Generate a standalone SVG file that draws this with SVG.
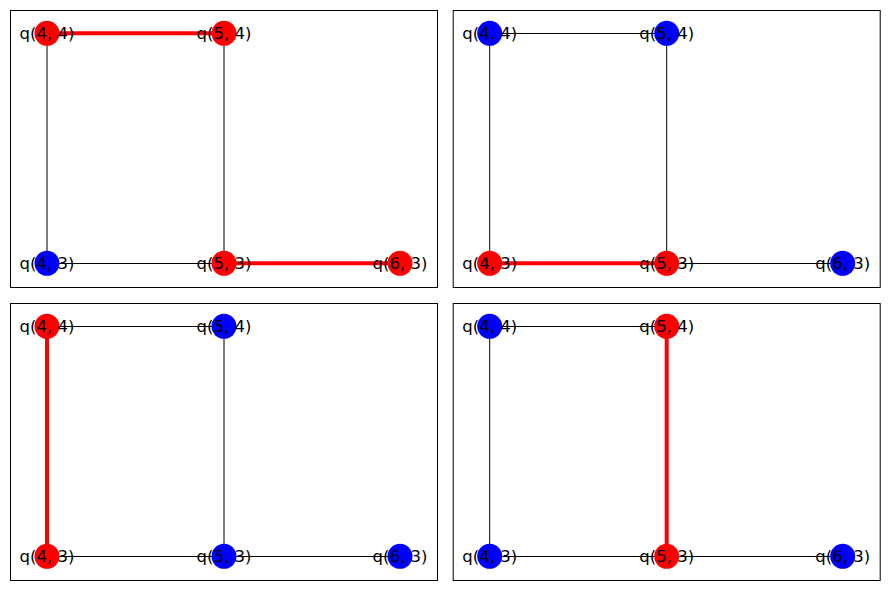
<svg xmlns="http://www.w3.org/2000/svg" width="889" height="590" viewBox="0 0 889 590">
<style>
.frame{fill:none;stroke:#000;stroke-width:1}
.e{stroke:#000;stroke-width:1}
.r{stroke:#ff0000;stroke-width:4}
.nr{fill:#ff0000}
.nb{fill:#0000ff}
text{font-family:"DejaVu Sans",sans-serif;font-size:16.5px;fill:#000;text-anchor:middle;dominant-baseline:central}
</style>
<rect width="889" height="590" fill="#fff"/>
<g id="panel1">
<rect class="frame" x="10.5" y="10.5" width="427" height="277"/>
<g id="p1-edges">
<line class="e" x1="47" y1="33.5" x2="47" y2="263.5"/>
<line class="e" x1="224" y1="33.5" x2="224" y2="263.5"/>
<line class="e" x1="47" y1="263.5" x2="224" y2="263.5"/>
<line class="r" x1="47" y1="33.3" x2="224" y2="33.3"/>
<line class="r" x1="224" y1="263.3" x2="400" y2="263.3"/>
</g>
<g id="p1-q44"><circle class="nr" cx="47" cy="33.3" r="12.5"/><text x="47" y="33.3">q(4, 4)</text></g>
<g id="p1-q54"><circle class="nr" cx="224" cy="33.3" r="12.5"/><text x="224" y="33.3">q(5, 4)</text></g>
<g id="p1-q43"><circle class="nb" cx="47" cy="263.3" r="12.5"/><text x="47" y="263.3">q(4, 3)</text></g>
<g id="p1-q53"><circle class="nr" cx="224" cy="263.3" r="12.5"/><text x="224" y="263.3">q(5, 3)</text></g>
<g id="p1-q63"><circle class="nr" cx="400" cy="263.3" r="12.5"/><text x="400" y="263.3">q(6, 3)</text></g>
</g>
<g id="panel2" transform="translate(442.7,0)">
<rect class="frame" x="10.5" y="10.5" width="427" height="277"/>
<g id="p2-edges">
<line class="e" x1="47" y1="33.5" x2="224" y2="33.5"/>
<line class="e" x1="47" y1="33.5" x2="47" y2="263.5"/>
<line class="e" x1="224" y1="33.5" x2="224" y2="263.5"/>
<line class="e" x1="224" y1="263.5" x2="400" y2="263.5"/>
<line class="r" x1="47" y1="263.3" x2="224" y2="263.3"/>
</g>
<g id="p2-q44"><circle class="nb" cx="47" cy="33.3" r="12.5"/><text x="47" y="33.3">q(4, 4)</text></g>
<g id="p2-q54"><circle class="nb" cx="224" cy="33.3" r="12.5"/><text x="224" y="33.3">q(5, 4)</text></g>
<g id="p2-q43"><circle class="nr" cx="47" cy="263.3" r="12.5"/><text x="47" y="263.3">q(4, 3)</text></g>
<g id="p2-q53"><circle class="nr" cx="224" cy="263.3" r="12.5"/><text x="224" y="263.3">q(5, 3)</text></g>
<g id="p2-q63"><circle class="nb" cx="400" cy="263.3" r="12.5"/><text x="400" y="263.3">q(6, 3)</text></g>
</g>
<g id="panel3" transform="translate(0,293)">
<rect class="frame" x="10.5" y="10.5" width="427" height="277"/>
<g id="p3-edges">
<line class="e" x1="47" y1="33.5" x2="224" y2="33.5"/>
<line class="e" x1="224" y1="33.5" x2="224" y2="263.5"/>
<line class="e" x1="47" y1="263.5" x2="224" y2="263.5"/>
<line class="e" x1="224" y1="263.5" x2="400" y2="263.5"/>
<line class="r" x1="47" y1="33.3" x2="47" y2="263.3"/>
</g>
<g id="p3-q44"><circle class="nr" cx="47" cy="33.3" r="12.5"/><text x="47" y="33.3">q(4, 4)</text></g>
<g id="p3-q54"><circle class="nb" cx="224" cy="33.3" r="12.5"/><text x="224" y="33.3">q(5, 4)</text></g>
<g id="p3-q43"><circle class="nr" cx="47" cy="263.3" r="12.5"/><text x="47" y="263.3">q(4, 3)</text></g>
<g id="p3-q53"><circle class="nb" cx="224" cy="263.3" r="12.5"/><text x="224" y="263.3">q(5, 3)</text></g>
<g id="p3-q63"><circle class="nb" cx="400" cy="263.3" r="12.5"/><text x="400" y="263.3">q(6, 3)</text></g>
</g>
<g id="panel4" transform="translate(442.7,293)">
<rect class="frame" x="10.5" y="10.5" width="427" height="277"/>
<g id="p4-edges">
<line class="e" x1="47" y1="33.5" x2="224" y2="33.5"/>
<line class="e" x1="47" y1="33.5" x2="47" y2="263.5"/>
<line class="e" x1="47" y1="263.5" x2="224" y2="263.5"/>
<line class="e" x1="224" y1="263.5" x2="400" y2="263.5"/>
<line class="r" x1="224" y1="33.3" x2="224" y2="263.3"/>
</g>
<g id="p4-q44"><circle class="nb" cx="47" cy="33.3" r="12.5"/><text x="47" y="33.3">q(4, 4)</text></g>
<g id="p4-q54"><circle class="nr" cx="224" cy="33.3" r="12.5"/><text x="224" y="33.3">q(5, 4)</text></g>
<g id="p4-q43"><circle class="nb" cx="47" cy="263.3" r="12.5"/><text x="47" y="263.3">q(4, 3)</text></g>
<g id="p4-q53"><circle class="nr" cx="224" cy="263.3" r="12.5"/><text x="224" y="263.3">q(5, 3)</text></g>
<g id="p4-q63"><circle class="nb" cx="400" cy="263.3" r="12.5"/><text x="400" y="263.3">q(6, 3)</text></g>
</g>
</svg>
